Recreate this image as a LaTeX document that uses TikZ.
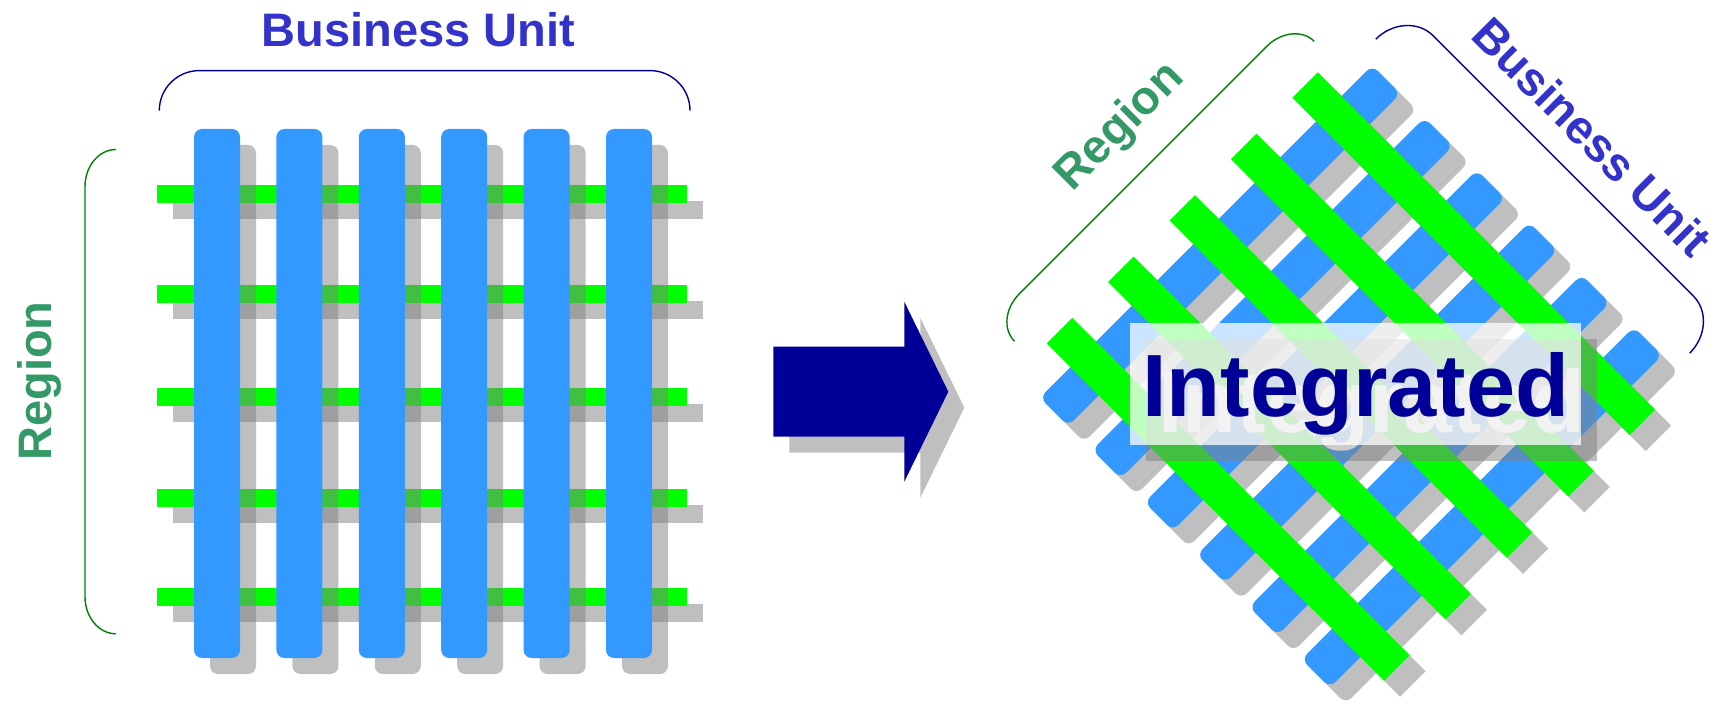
\documentclass[tikz,border=0pt]{standalone}
\usepackage{fontspec}
\setmainfont{Liberation Sans}
\definecolor{barblue}{RGB}{51,153,255}
\definecolor{bargreen}{RGB}{0,255,0}
\definecolor{shadowgray}{RGB}{128,128,128}
\definecolor{navy}{RGB}{0,0,153}
\definecolor{butext}{RGB}{51,51,204}
\definecolor{regtext}{RGB}{51,153,102}
\definecolor{regline}{RGB}{0,128,0}
\begin{document}
\begin{tikzpicture}[x=1pt,y=1pt,
  bluebar/.style={fill=barblue, rounded corners=8pt},
  greenbar/.style={fill=bargreen},
  shade/.style={fill=shadowgray, fill opacity=0.5},
  shaderound/.style={fill=shadowgray, fill opacity=0.5, rounded corners=8pt},
  bubrace/.style={draw=navy, line width=1.4pt},
  regbrace/.style={draw=regline, line width=1.4pt},
  lbl/.style={inner sep=0pt, font=\fontsize{47}{56}\selectfont\bfseries},
]
\useasboundingbox (0,0) rectangle (1719,702);

% ---------- left grid ----------
\foreach \r in {194,294.5,397,498.5,597} {
  \fill[shade] (173,{702-\r-25}) rectangle (703,{702-\r-7});
  \fill[greenbar] (157,{702-\r-9}) rectangle (687,{702-\r+9});
}
\foreach \i in {0,...,5} {
  \pgfmathsetmacro{\xl}{194+82.4*\i}
  \fill[shaderound] ({\xl+16},28) rectangle ({\xl+62},557);
  \fill[bluebar] (\xl,44) rectangle ({\xl+46},573);
}

% left braces
\draw[bubrace] (159.3,591.4) arc[start angle=180,end angle=90,radius=40]
  -- (650,631.4) arc[start angle=90,end angle=0,radius=40];
\draw[regbrace] (116,552.5) arc[start angle=90,end angle=180,x radius=31,y radius=37]
  -- (85,105.2) arc[start angle=180,end angle=270,x radius=31,y radius=37];

\node[lbl, text=butext, anchor=base] (bu1) at (418.5,655.9) {Business Unit};
\node[lbl, text=regtext, anchor=base, rotate=90] (reg1) at (51.9,321) {Region};

% ---------- arrow ----------
\fill[shade] (789.3,339.3) -- (920.3,339.3) -- (920.3,384.3) -- (964.3,294.3)
  -- (920.3,204.3) -- (920.3,249.3) -- (789.3,249.3) -- cycle;
\fill[navy] (773.3,355.3) -- (904.3,355.3) -- (904.3,400.3) -- (948.3,310.3)
  -- (904.3,220.3) -- (904.3,265.3) -- (773.3,265.3) -- cycle;

% ---------- rotated grid ----------
\begin{scope}[shift={(1351,325.5)}, rotate=-45]
  \foreach \u in {-185,-111,-37,37,111,185} {
    \fill[shaderound] ({\u-20+22.63},-235) rectangle ({\u+20+22.63},235);
    \fill[bluebar] ({\u-20},-235) rectangle ({\u+20},235);
  }
  \foreach \v in {-173.7,-86.85,0,86.85,173.7} {
    \fill[shade] ({-238.5+22.63},{\v-18}) rectangle ({238.5+22.63},{\v+18});
    \fill[greenbar] (-238.5,{\v-18}) rectangle (238.5,{\v+18});
  }
  \draw[regbrace] (-263,211) arc[start angle=90,end angle=180,x radius=30,y radius=37]
    -- (-293,-176) arc[start angle=180,end angle=270,x radius=30,y radius=37];
  \draw[bubrace] (-221,256) arc[start angle=180,end angle=90,x radius=38,y radius=43]
    -- (185,299) arc[start angle=90,end angle=0,x radius=38,y radius=43];
\end{scope}

\node[lbl, text=regtext, anchor=base, rotate=45] (reg2) at (1129.2,566.2) {Region};
\node[lbl, text=butext, anchor=base, rotate=-45] (bu2) at (1580.3,553.4) {Business Unit};

% ---------- Integrated box ----------
\fill[shade] (1146,241) rectangle (1596.7,362.7);
\node[inner sep=0pt, anchor=base, text=shadowgray!40,
  font=\fontsize{88.4}{100}\selectfont\bfseries] (intsh) at (1371.7,269.3) {Integrated};
\fill[white, fill opacity=0.75] (1130,257) rectangle (1580.7,378.7);
\node[inner sep=0pt, anchor=base, text=navy,
  font=\fontsize{88.4}{100}\selectfont\bfseries] (int) at (1355.7,285.3) {Integrated};
\end{tikzpicture}
\end{document}
